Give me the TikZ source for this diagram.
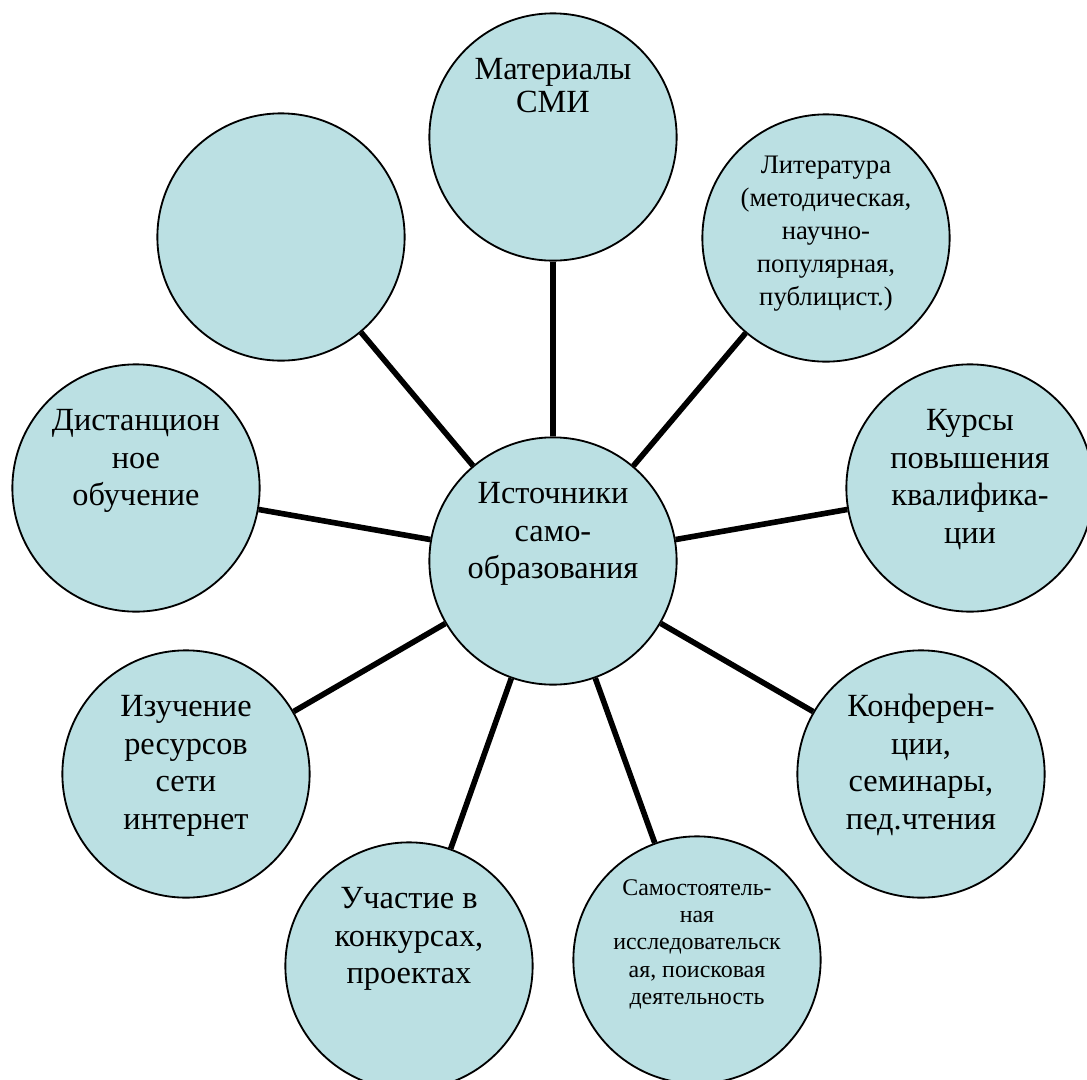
\documentclass[tikz,border=0pt]{standalone}
\usepackage{fontspec}
\setmainfont{Liberation Serif}
\usetikzlibrary{positioning}

\definecolor{bubble}{RGB}{187,224,227}

\begin{document}
\begin{tikzpicture}[x=0.025cm, y=-0.025cm,
    bub/.style={circle, draw=black, line width=1.3pt, fill=bubble,
      minimum size=6.18cm, inner sep=0pt},
    txt/.style={align=center, inner sep=0pt,
      font=\fontsize{23}{26.6}\selectfont},
    link/.style={line width=4pt}]
  \useasboundingbox (0,0) rectangle (1087,1080);
  \clip (0,0) rectangle (1087,1080);

  % Circles
  \node[bub] (src) at (553,561) {};
  \node[bub] (media) at (553,137) {};
  \node[bub] (lit) at (826,238) {};
  \node[bub] (course) at (970,488) {};
  \node[bub] (conf) at (921,774) {};
  \node[bub] (research) at (697,960) {};
  \node[bub] (contest) at (409,966) {};
  \node[bub] (web) at (186,774) {};
  \node[bub] (remote) at (136,488) {};
  \node[bub] (blank) at (281,237) {};

  % Links from the centre
  \foreach \n in {media,lit,course,conf,research,contest,web,remote,blank}
    \draw[link] (src) -- (\n);

  % Texts (base = baseline of the last line)
  \node[txt, below=3.55cm of src.north, anchor=base] (srcT) {Источники\\само-\\образования};
  \node[txt, below=2.5cm of media.north, anchor=base,
    font=\fontsize{23}{23.4}\selectfont] (mediaT) {Материалы\\СМИ};
  \node[txt, below=4.79cm of lit.north, anchor=base,
    font=\fontsize{19}{23.4}\selectfont] (litT)
    {Литература\\(методическая,\\научно-\\популярная,\\публицист.)};
  \node[txt, below=4.49cm of course.north, anchor=base] (courseT) {Курсы\\повышения\\квалифика-\\ции};
  \node[txt, below=4.49cm of conf.north, anchor=base] (confT) {Конферен-\\ции,\\семинары,\\пед.чтения};
  \node[txt, below=4.23cm of research.north, anchor=base,
    font=\fontsize{17}{19.5}\selectfont] (researchT)
    {Самостоятель-\\ная\\исследовательск\\ая, поисковая\\деятельность};
  \node[txt, below=3.55cm of contest.north, anchor=base] (contestT) {Участие в\\конкурсах,\\проектах};
  \node[txt, below=4.49cm of web.north, anchor=base] (webT) {Изучение\\ресурсов\\сети\\интернет};
  \node[txt, below=3.55cm of remote.north, anchor=base] (remoteT) {Дистанцион\\ное\\обучение};
\end{tikzpicture}
\end{document}
